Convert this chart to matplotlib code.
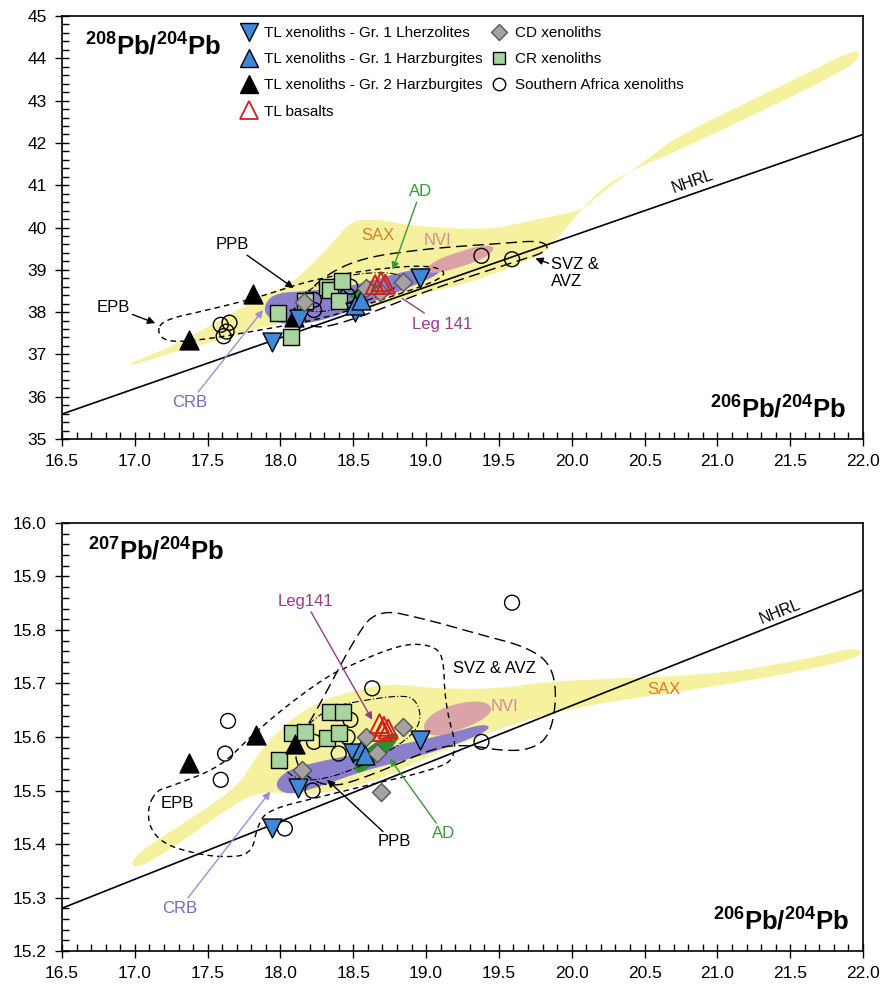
import numpy as np
import matplotlib
matplotlib.use("Agg")
import matplotlib.pyplot as plt
from matplotlib.patches import Polygon
from matplotlib.lines import Line2D
from matplotlib.ticker import MultipleLocator, FormatStrFormatter

plt.rcParams['font.family'] = ['Liberation Sans', 'DejaVu Sans']
plt.rcParams['mathtext.fontset'] = 'custom'
plt.rcParams['mathtext.rm'] = 'Liberation Sans'
plt.rcParams['mathtext.bf'] = 'Liberation Sans:bold'

# ---------------- data: 206Pb/204Pb vs 208Pb/204Pb (top) ----------------
t_gr2_x = [17.37, 17.81, 18.09]
t_gr2_y = [37.34, 38.44, 37.88]
t_lhz_x = [17.94, 18.13, 18.51, 18.96]
t_lhz_y = [37.30, 37.83, 38.01, 38.80]
t_hzb_x = [18.51, 18.55]
t_hzb_y = [38.17, 38.29]
t_bas_x = [18.65, 18.69, 18.72]
t_bas_y = [38.65, 38.72, 38.66]
t_cd_x = [18.16, 18.59, 18.68, 18.84]
t_cd_y = [38.25, 38.56, 38.48, 38.72]
t_cr_x = [17.98, 18.07, 18.17, 18.32, 18.34, 18.42, 18.40]
t_cr_y = [37.97, 37.40, 38.27, 38.60, 38.52, 38.74, 38.26]
t_saf_x = [17.59, 17.63, 17.61, 17.65, 18.23, 18.23, 18.46, 18.48, 19.38, 19.59]
t_saf_y = [37.70, 37.54, 37.43, 37.75, 38.29, 38.05, 38.40, 38.60, 39.33, 39.25]

# ---------------- data: 206Pb/204Pb vs 207Pb/204Pb (bottom) ----------------
b_gr2_x = [17.37, 17.83, 18.10]
b_gr2_y = [15.551, 15.604, 15.586]
b_lhz_x = [17.94, 18.12, 18.50, 18.96]
b_lhz_y = [15.430, 15.504, 15.570, 15.594]
b_hzb_x = [18.55, 18.58]
b_hzb_y = [15.575, 15.566]
b_bas_x = [18.68, 18.71, 18.74, 18.70]
b_bas_y = [15.625, 15.620, 15.615, 15.610]
b_cd_x = [18.15, 18.59, 18.66, 18.84, 18.69]
b_cd_y = [15.538, 15.600, 15.570, 15.619, 15.498]
b_cr_x = [17.99, 18.08, 18.17, 18.32, 18.40, 18.34, 18.43]
b_cr_y = [15.557, 15.607, 15.610, 15.598, 15.607, 15.647, 15.647]
b_saf_x = [17.64, 17.62, 17.59, 18.03, 18.22, 18.23, 18.40, 18.48, 18.46, 18.63, 19.59, 19.38]
b_saf_y = [15.630, 15.569, 15.520, 15.429, 15.500, 15.591, 15.569, 15.632, 15.600, 15.691, 15.851, 15.591]

# NHRL reference lines
nhrl_x = [16.5, 22.0]
nhrl_top_y = [35.59, 42.20]
nhrl_bot_y = [15.28, 15.875]

# ---------------- fields (outline vertices) ----------------
sax_top = [(16.97, 36.80), (17.30, 37.25), (17.86, 38.36), (18.09, 38.69), (18.35, 39.60), (18.48, 40.14),
           (18.62, 40.22), (18.94, 40.02), (19.44, 39.94), (19.74, 40.18), (20.08, 40.41), (20.17, 40.73),
           (20.54, 41.67), (20.72, 42.15), (21.50, 43.45), (21.93, 44.20), (21.99, 44.10), (21.89, 43.72),
           (20.74, 41.83), (20.47, 41.44), (20.20, 40.96), (19.85, 39.54), (19.76, 39.30), (19.32, 38.71),
           (19.00, 38.45), (18.60, 38.10), (18.20, 37.85), (17.86, 37.65), (17.59, 37.34), (17.24, 37.03),
           (16.97, 36.72)]
crb_top = [(17.88, 38.10), (17.95, 38.45), (18.20, 38.50), (18.50, 38.62), (18.80, 38.92), (19.05, 39.10),
           (19.12, 38.95), (18.90, 38.60), (18.60, 38.20), (18.30, 37.80), (18.05, 37.68), (17.92, 37.85)]
nvi_top = [(18.98, 38.95), (19.05, 39.20), (19.20, 39.40), (19.38, 39.58), (19.48, 39.55), (19.42, 39.30),
           (19.25, 39.08), (19.08, 38.92)]
ad_top = [(18.46, 38.35), (18.52, 38.55), (18.62, 38.68), (18.70, 38.62), (18.64, 38.42), (18.54, 38.30)]
epb_top = [(17.15, 37.55), (17.20, 37.82), (17.50, 38.05), (17.85, 38.35), (18.20, 38.75), (18.60, 39.00),
           (19.00, 39.12), (19.15, 38.95), (19.05, 38.70), (18.70, 38.30), (18.30, 37.85), (17.90, 37.60),
           (17.50, 37.36), (17.22, 37.28)]
svz_top = [(18.15, 38.05), (18.20, 38.60), (18.50, 39.25), (19.00, 39.50), (19.50, 39.62), (19.80, 39.70),
           (19.85, 39.45), (19.60, 39.18), (19.00, 38.50), (18.60, 37.95), (18.30, 37.62), (18.18, 37.70)]
ppb_top = [(18.10, 38.30), (18.30, 38.75), (18.60, 38.95), (18.85, 38.90), (18.80, 38.55), (18.50, 38.15),
           (18.20, 37.95)]

sax_bot = [(16.97, 15.375), (17.40, 15.450), (17.72, 15.510), (17.86, 15.576), (18.09, 15.638), (18.30, 15.670),
           (18.55, 15.690), (18.78, 15.700), (19.07, 15.690), (19.50, 15.690), (19.85, 15.705), (20.99, 15.716),
           (21.60, 15.745), (21.98, 15.770), (21.99, 15.745), (20.99, 15.694), (19.85, 15.650), (19.07, 15.570),
           (18.78, 15.532), (18.55, 15.510), (18.20, 15.490), (17.86, 15.500), (17.63, 15.465), (17.30, 15.400),
           (17.00, 15.350)]
crb_bot = [(17.95, 15.510), (18.05, 15.540), (18.30, 15.556), (18.55, 15.570), (18.90, 15.590), (19.20, 15.610),
           (19.40, 15.625), (19.45, 15.615), (19.20, 15.585), (18.90, 15.560), (18.55, 15.535), (18.30, 15.510),
           (18.05, 15.490)]
nvi_bot = [(18.97, 15.615), (19.02, 15.640), (19.15, 15.658), (19.30, 15.667), (19.42, 15.665), (19.46, 15.650),
           (19.38, 15.630), (19.20, 15.610), (19.05, 15.600)]
ad_bot = [(18.50, 15.545), (18.55, 15.570), (18.68, 15.595), (18.78, 15.610), (18.82, 15.600), (18.75, 15.575),
          (18.62, 15.545), (18.53, 15.530)]
epb_bot = [(17.09, 15.470), (17.15, 15.500), (17.24, 15.507), (17.59, 15.544), (17.79, 15.600), (18.05, 15.660),
           (18.32, 15.713), (18.45, 15.730), (18.70, 15.760), (18.89, 15.775), (19.05, 15.770), (19.12, 15.750),
           (19.13, 15.660), (19.23, 15.560), (19.00, 15.535), (18.60, 15.510), (18.30, 15.490), (17.91, 15.464),
           (17.84, 15.432), (17.80, 15.380), (17.60, 15.375), (17.40, 15.383), (17.20, 15.400), (17.10, 15.430)]
svz_bot = [(18.05, 15.560), (18.25, 15.650), (18.50, 15.780), (18.66, 15.840), (19.00, 15.820), (19.39, 15.790),
           (19.67, 15.770), (19.85, 15.740), (19.90, 15.680), (19.85, 15.600), (19.70, 15.575), (19.50, 15.575),
           (19.30, 15.585), (19.07, 15.582), (18.66, 15.532), (18.30, 15.500)]
ppb_bot = [(18.10, 15.600), (18.32, 15.655), (18.60, 15.670), (18.84, 15.678), (18.93, 15.670), (18.97, 15.635),
           (18.90, 15.600), (18.60, 15.550), (18.30, 15.520), (18.10, 15.520), (18.00, 15.550)]

YEL = '#f6f19e'
PUR = '#8a7fcb'
PNK = '#dba3a8'
GRN = '#2f8f2f'
BLUE = '#3f87d8'
LBL = 12  # annotation size


def smooth(pts, n=3):
    # corner cutting so the hand-drawn fields look rounded
    p = np.array(pts, float)
    for _ in range(n):
        q = np.roll(p, -1, axis=0)
        a = 0.75 * p + 0.25 * q
        b = 0.25 * p + 0.75 * q
        p = np.empty((2 * len(a), 2))
        p[0::2] = a
        p[1::2] = b
    return p


def field(ax, pts, **kw):
    ax.add_patch(Polygon(smooth(pts), closed=True, **kw))


def draw_points(ax, d):
    ms = dict(edgecolors='black', linewidths=1.0, zorder=5)
    ax.scatter(d['saf'][0], d['saf'][1], s=115, marker='o', facecolors='none', **ms)
    ax.scatter(d['cr'][0], d['cr'][1], s=125, marker='s', facecolors='#a8d4a0', **ms)
    ax.scatter(d['cd'][0], d['cd'][1], s=85, marker='D', facecolors='#a3a3a3', edgecolors='#555555',
               linewidths=1.0, zorder=6)
    ax.scatter(d['gr2'][0], d['gr2'][1], s=185, marker='^', facecolors='black', **ms)
    ax.scatter(d['lhz'][0], d['lhz'][1], s=185, marker='v', facecolors=BLUE, **ms)
    ax.scatter(d['hzb'][0], d['hzb'][1], s=185, marker='^', facecolors=BLUE, **ms)
    ax.scatter(d['bas'][0], d['bas'][1], s=185, marker='^', facecolors='none', edgecolors='#d02020',
               linewidths=1.4, zorder=7)


def style_axes(ax, ylo, yhi, ymaj, ymin):
    ax.set_xlim(16.5, 22.0)
    ax.set_ylim(ylo, yhi)
    ax.xaxis.set_major_locator(MultipleLocator(0.5))
    ax.xaxis.set_minor_locator(MultipleLocator(0.1))
    ax.yaxis.set_major_locator(MultipleLocator(ymaj))
    ax.yaxis.set_minor_locator(MultipleLocator(ymin))
    ax.xaxis.set_major_formatter(FormatStrFormatter('%.1f'))
    ax.tick_params(which='major', direction='inout', length=10, width=1, labelsize=12.5, pad=6)
    ax.tick_params(which='minor', direction='in', length=5, width=1)
    for s in ax.spines.values():
        s.set_linewidth(1.2)


fig = plt.figure(figsize=(8.82, 9.89), dpi=100)
ax1 = fig.add_axes([0.0703, 0.5561, 0.9082, 0.4277])
ax2 = fig.add_axes([0.0703, 0.0384, 0.9082, 0.4328])

# ---------------- top panel ----------------
field(ax1, sax_top, facecolor=YEL, edgecolor='none', zorder=1)
field(ax1, crb_top, facecolor=PUR, edgecolor='none', zorder=2)
field(ax1, nvi_top, facecolor=PNK, edgecolor='none', zorder=2)
field(ax1, ad_top, facecolor=GRN, edgecolor='none', zorder=2)
field(ax1, epb_top, fill=False, edgecolor='black', linestyle=(0, (4, 3)), lw=1.0, zorder=3)
field(ax1, svz_top, fill=False, edgecolor='black', linestyle=(0, (8, 4)), lw=1.0, zorder=3)
field(ax1, ppb_top, fill=False, edgecolor='black', linestyle=(0, (6, 2, 1, 2)), lw=0.8, zorder=3)
ax1.plot(nhrl_x, nhrl_top_y, color='black', lw=1.2, zorder=4)

draw_points(ax1, dict(saf=(t_saf_x, t_saf_y), cr=(t_cr_x, t_cr_y), cd=(t_cd_x, t_cd_y),
                      gr2=(t_gr2_x, t_gr2_y), lhz=(t_lhz_x, t_lhz_y), hzb=(t_hzb_x, t_hzb_y),
                      bas=(t_bas_x, t_bas_y)))
style_axes(ax1, 35, 45, 1, 0.2)

ax1.text(0.029, 0.928, r'$\mathbf{^{208}Pb/^{204}Pb}$', transform=ax1.transAxes, fontsize=18.5, va='center')
ax1.text(0.978, 0.069, r'$\mathbf{^{206}Pb/^{204}Pb}$', transform=ax1.transAxes, fontsize=18.5,
         va='center', ha='right')

arr = dict(arrowstyle='-|>', lw=1.0, mutation_scale=11, shrinkA=0, shrinkB=0)
ax1.annotate('PPB', xy=(18.09, 38.57), xytext=(17.67, 39.59), fontsize=LBL, ha='center', va='center',
             arrowprops=dict(color='black', **arr), zorder=8)
ax1.annotate('EPB', xy=(17.14, 37.74), xytext=(16.85, 38.12), fontsize=LBL, ha='center', va='center',
             arrowprops=dict(color='black', **arr), zorder=8)
ax1.annotate('CRB', xy=(17.88, 38.05), xytext=(17.38, 35.87), fontsize=LBL, ha='center', va='center',
             color='#7468c0', arrowprops=dict(color='#9a90d8', **arr), zorder=8)
ax1.annotate('AD', xy=(18.77, 39.0), xytext=(18.96, 40.84), fontsize=LBL, ha='center', va='center',
             color='#3a963a', arrowprops=dict(color='#3a963a', **arr), zorder=8)
ax1.annotate('Leg 141', xy=(18.82, 38.36), xytext=(19.11, 37.70), fontsize=LBL, ha='center', va='center',
             color='#9a3a8a', arrowprops=dict(arrowstyle='-', color='#9a3a8a', lw=1.0), zorder=8)
ax1.annotate('SVZ &\nAVZ', xy=(19.75, 39.27), xytext=(19.86, 38.92), fontsize=LBL, ha='left', va='center',
             arrowprops=dict(color='black', **arr), zorder=8)
ax1.text(18.67, 39.82, 'SAX', color='#e07a30', fontsize=LBL, ha='center', va='center', zorder=8)
ax1.text(19.08, 39.70, 'NVI', color='#d48a96', fontsize=LBL, ha='center', va='center', zorder=8)
ax1.text(20.83, 41.08, 'NHRL', fontsize=11.5, ha='center', va='center', rotation=19.3, zorder=8)

handles = [
    Line2D([], [], ls='none', marker='v', ms=12.5, mfc=BLUE, mec='black'),
    Line2D([], [], ls='none', marker='^', ms=12.5, mfc=BLUE, mec='black'),
    Line2D([], [], ls='none', marker='^', ms=12.5, mfc='black', mec='black'),
    Line2D([], [], ls='none', marker='^', ms=12.5, mfc='none', mec='#d02020', mew=1.3),
    Line2D([], [], ls='none', marker='D', ms=8, mfc='#a3a3a3', mec='#555555'),
    Line2D([], [], ls='none', marker='s', ms=9, mfc='#a8d4a0', mec='black'),
    Line2D([], [], ls='none', marker='o', ms=9, mfc='white', mec='black'),
]
labels = ['TL xenoliths - Gr. 1 Lherzolites', 'TL xenoliths - Gr. 1 Harzburgites',
          'TL xenoliths - Gr. 2 Harzburgites', 'TL basalts', 'CD xenoliths', 'CR xenoliths',
          'Southern Africa xenoliths']
ax1.legend(handles, labels, ncol=2, loc='upper left', bbox_to_anchor=(0.212, 0.998), frameon=False,
           fontsize=11, handlelength=1.0, handletextpad=0.5, labelspacing=0.8, columnspacing=0.6,
           borderaxespad=0.2)

# ---------------- bottom panel ----------------
field(ax2, sax_bot, facecolor=YEL, edgecolor='none', zorder=1)
field(ax2, crb_bot, facecolor=PUR, edgecolor='none', zorder=2)
field(ax2, nvi_bot, facecolor=PNK, edgecolor='none', zorder=2)
field(ax2, ad_bot, facecolor=GRN, edgecolor='none', zorder=2)
field(ax2, epb_bot, fill=False, edgecolor='black', linestyle=(0, (4, 3)), lw=1.0, zorder=3)
field(ax2, svz_bot, fill=False, edgecolor='black', linestyle=(0, (8, 4)), lw=1.0, zorder=3)
field(ax2, ppb_bot, fill=False, edgecolor='black', linestyle=(0, (6, 2, 1, 2)), lw=0.8, zorder=3)
ax2.plot(nhrl_x, nhrl_bot_y, color='black', lw=1.2, zorder=4)

draw_points(ax2, dict(saf=(b_saf_x, b_saf_y), cr=(b_cr_x, b_cr_y), cd=(b_cd_x, b_cd_y),
                      gr2=(b_gr2_x, b_gr2_y), lhz=(b_lhz_x, b_lhz_y), hzb=(b_hzb_x, b_hzb_y),
                      bas=(b_bas_x, b_bas_y)))
style_axes(ax2, 15.2, 16.0, 0.1, 0.02)
ax2.yaxis.set_major_formatter(FormatStrFormatter('%.1f'))

ax2.text(0.033, 0.933, r'$\mathbf{^{207}Pb/^{204}Pb}$', transform=ax2.transAxes, fontsize=18.5, va='center')
ax2.text(0.982, 0.068, r'$\mathbf{^{206}Pb/^{204}Pb}$', transform=ax2.transAxes, fontsize=18.5,
         va='center', ha='right')

ax2.annotate('Leg141', xy=(18.63, 15.632), xytext=(18.17, 15.853), fontsize=LBL, ha='center', va='center',
             color='#9a3a8a', arrowprops=dict(color='#9a3a8a', **arr), zorder=8)
ax2.annotate('PPB', xy=(18.32, 15.52), xytext=(18.78, 15.404), fontsize=LBL, ha='center', va='center',
             arrowprops=dict(color='black', **arr), zorder=8)
ax2.annotate('AD', xy=(18.75, 15.56), xytext=(19.12, 15.42), fontsize=LBL, ha='center', va='center',
             color='#3a963a', arrowprops=dict(color='#3a963a', **arr), zorder=8)
ax2.annotate('CRB', xy=(17.93, 15.498), xytext=(17.31, 15.28), fontsize=LBL, ha='center', va='center',
             color='#7468c0', arrowprops=dict(color='#9a90d8', **arr), zorder=8)
ax2.text(17.29, 15.476, 'EPB', fontsize=LBL, ha='center', va='center', zorder=8)
ax2.text(19.47, 15.728, 'SVZ & AVZ', fontsize=LBL, ha='center', va='center', zorder=8)
ax2.text(19.54, 15.657, 'NVI', color='#d48a96', fontsize=LBL, ha='center', va='center', zorder=8)
ax2.text(20.63, 15.688, 'SAX', color='#e07a30', fontsize=LBL, ha='center', va='center', zorder=8)
ax2.text(21.43, 15.834, 'NHRL', fontsize=11.5, ha='center', va='center', rotation=21.7, zorder=8)

fig.savefig('out.png', dpi=100)
